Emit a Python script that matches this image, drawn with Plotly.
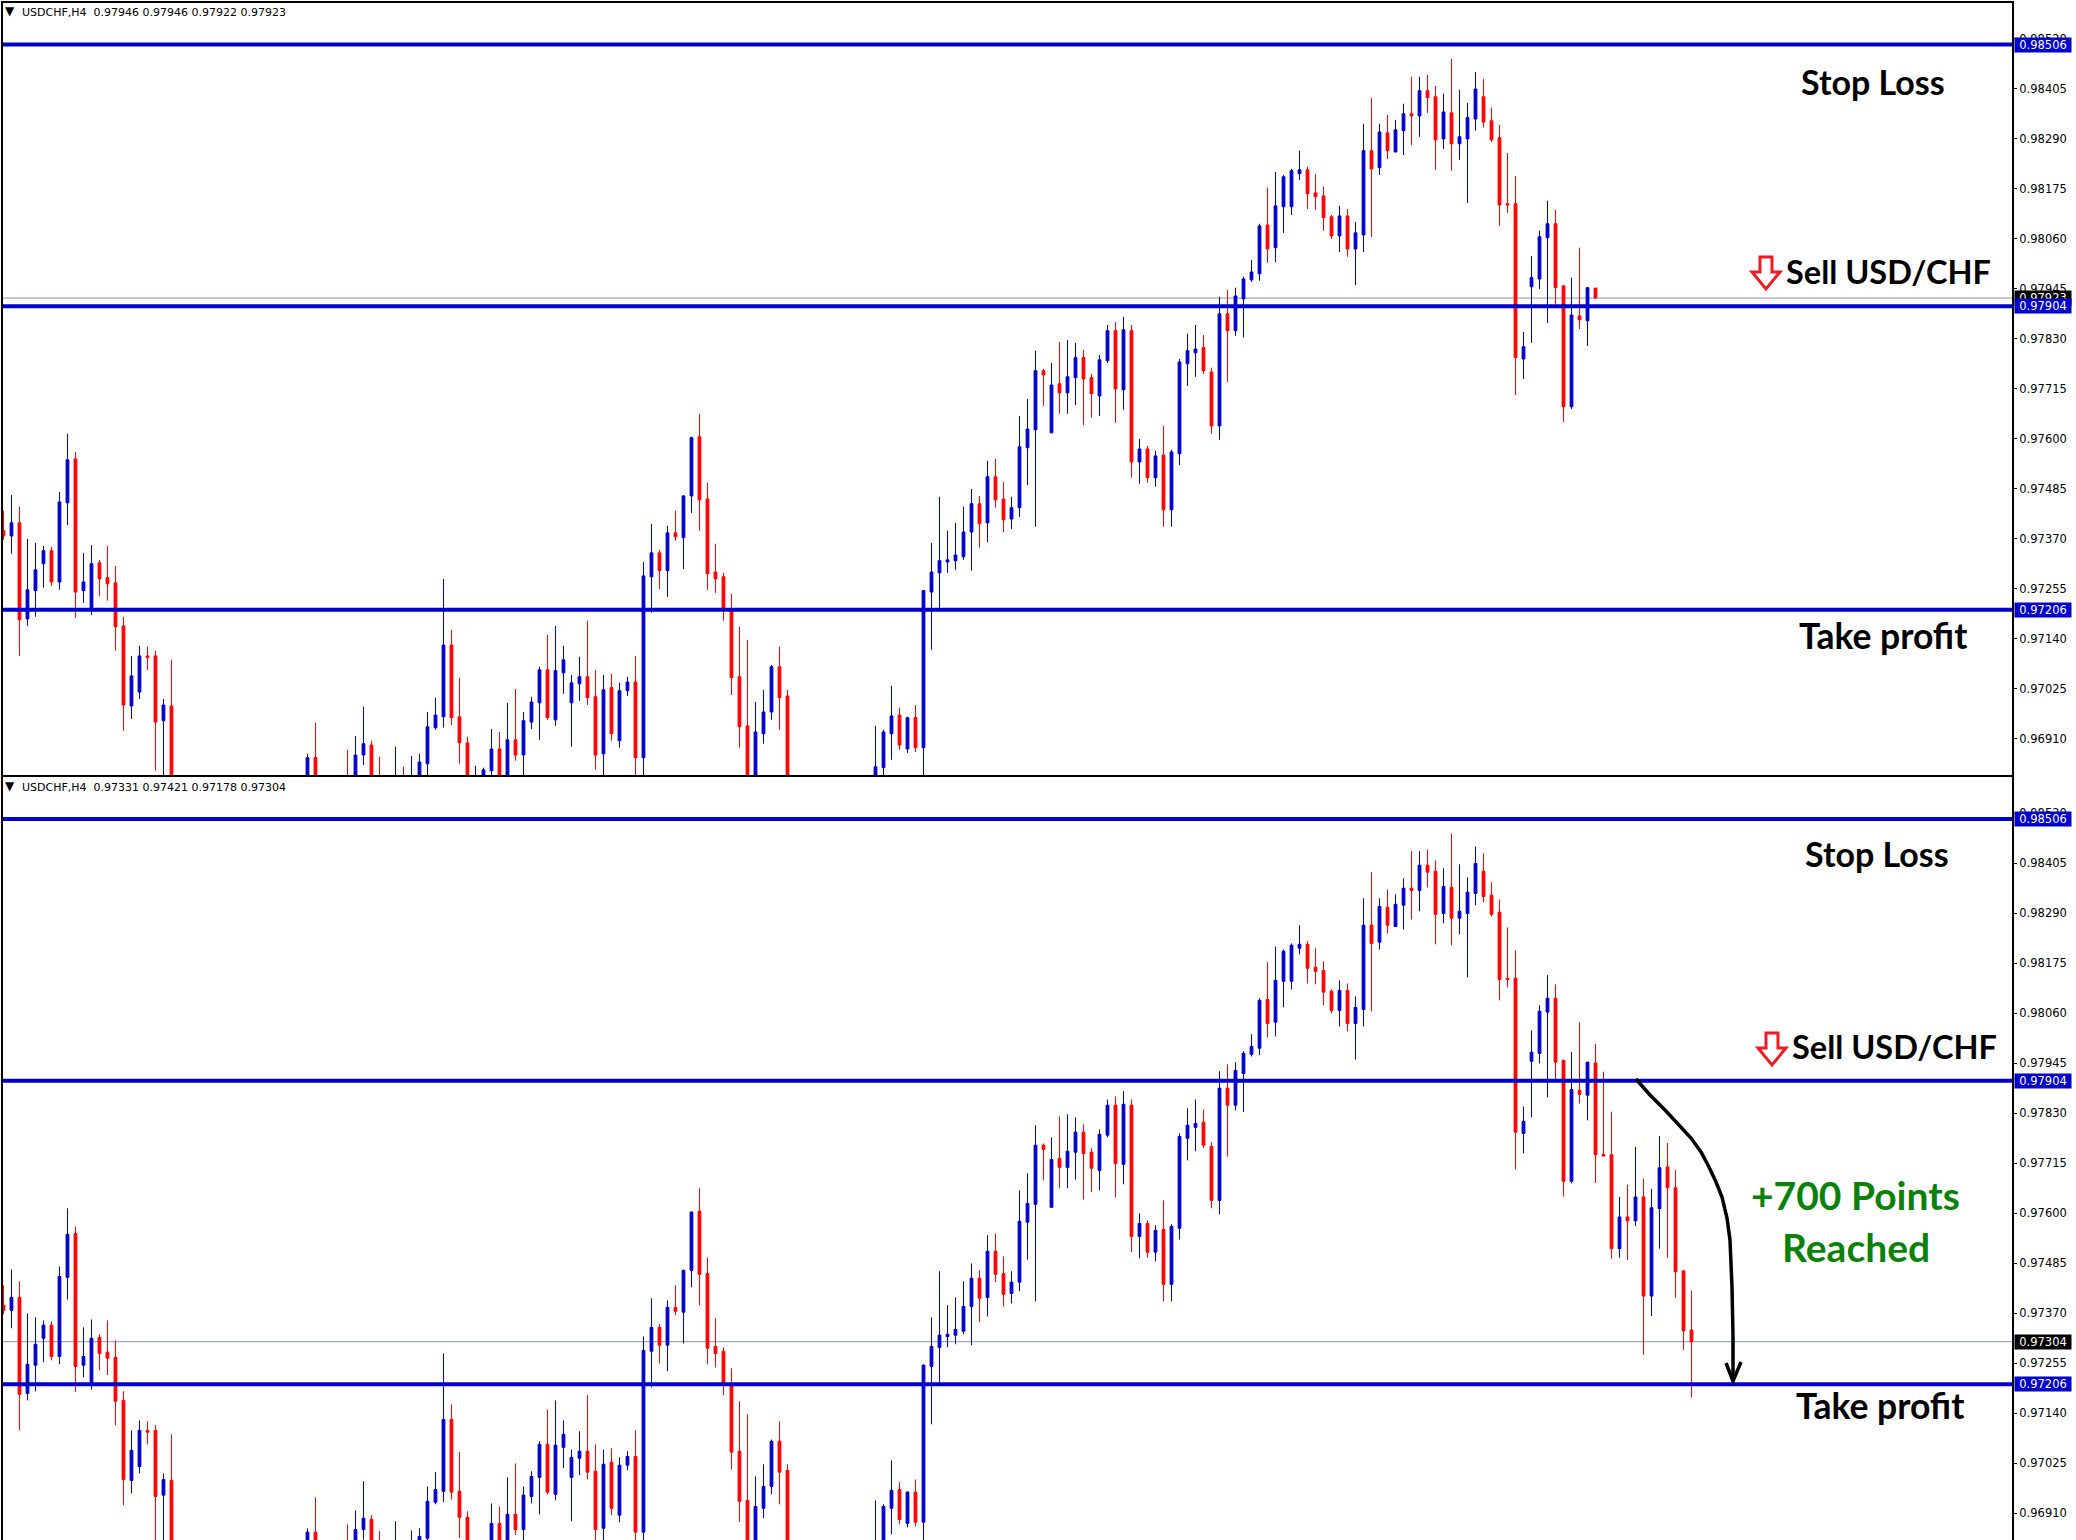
import plotly.graph_objects as go

# --- Data, prices in 1/100000 ---
FIG_W, FIG_H = 2076, 1540

bar_index = list(range(0, 22)) + [38, 39] + list(range(43, 48)) + list(range(49, 99)) + list(range(109, 212))

# B = up bar (blue), R = down bar (red)
bar_dir = (
    "RBRBBBRBBRBBRRRRBBRRBR"
    "BR"
    "RBBRR"
    "BRBBBBBRRR" "BBBRBRBBBR" "BBBBRRBRBB" "RBBRBRBBRR" "RRRRRBBBRR"
    "BBBRBRBBBB" "BBBRBRRBBB" "BRBRBBRRBB" "RBRBRBRBBB" "BRRBRBBBBR"
    "BBBBRRRRBR" "BBRBRBBRBR" "RBRBBBRRRR" "RBBBBRRBRB"
    "RRRBRBRBBRRRR"
)

bar_high = [
    97434, 97470, 97443, 97369, 97360, 97353, 97351, 97477, 97611, 97569, 97337, 97355, 97321, 97353, 97307, 97190,
    97100, 97123, 97121, 97112, 97001, 97091,
    96875, 96946,
    96884, 96916, 96983, 96905, 96868,
    96891, 96845, 96870, 96875, 96971, 97004, 97277, 97160, 97050, 96914, 96847, 96843, 96932, 96925, 96992, 97024,
    96971, 97006, 97075, 97148, 97169, 97123, 97056, 97098, 97181, 97068, 97056, 97059, 97038, 97052, 97100, 97316,
    97404, 97344, 97399, 97434, 97470, 97604, 97657, 97498, 97358, 97291, 97243, 97167, 97137, 96994, 97022, 97079,
    97121, 97022,
    96939, 96930, 97031, 96981, 96960, 96987, 97252, 97360, 97466, 97388, 97406, 97443, 97484, 97468, 97549, 97553,
    97500, 97466, 97652, 97691, 97802, 97760, 97774, 97822, 97827, 97820, 97804, 97749, 97792, 97861, 97868, 97880,
    97861, 97599, 97583, 97572, 97629, 97574, 97783, 97841, 97861, 97838, 97763, 97926, 97942, 97947, 97972, 98011,
    98094, 98177, 98213, 98206, 98220, 98262, 98225, 98209, 98179, 98114, 98135, 98128, 98098, 98324, 98384, 98324,
    98344, 98333, 98370, 98432, 98432, 98436, 98411, 98393, 98473, 98402, 98372, 98443, 98427, 98361, 98321, 98257,
    98204, 97845, 98020, 98078, 98147, 98126, 97953, 97970, 98039, 97947,
    97989, 97925, 97833, 97637, 97665, 97752, 97679, 97656, 97777, 97761, 97699, 97467, 97421,
]
bar_top = [
    97388, 97406, 97406, 97252, 97298, 97342, 97342, 97454, 97551, 97553, 97270, 97312, 97314, 97280, 97268, 97169,
    97054, 97100, 97100, 97100, 96987, 96985,
    96866, 96866,
    96820, 96872, 96898, 96895, 96820,
    96820, 96820, 96820, 96856, 96937, 96964, 97125, 97125, 96960, 96900, 96820, 96838, 96886, 96886, 96907, 96907,
    96951, 96994, 97068, 97068, 97066, 97091, 97038, 97052, 97052, 97006, 97022, 97027, 97020, 97040, 97040, 97284,
    97337, 97337, 97383, 97383, 97468, 97602, 97604, 97461, 97293, 97282, 97206, 97052, 96939, 96925, 96971, 97075,
    97075, 97008,
    96845, 96925, 96962, 96964, 96958, 96958, 97250, 97293, 97319, 97321, 97332, 97385, 97450, 97450, 97512, 97512,
    97461, 97441, 97581, 97622, 97756, 97756, 97723, 97726, 97742, 97786, 97786, 97740, 97781, 97848, 97848, 97850,
    97848, 97576, 97576, 97560, 97562, 97569, 97776, 97802, 97806, 97809, 97753, 97887, 97887, 97928, 97967, 97983,
    98089, 98091, 98135, 98202, 98216, 98218, 98218, 98165, 98158, 98110, 98112, 98112, 98073, 98262, 98262, 98305,
    98303, 98310, 98347, 98347, 98400, 98400, 98386, 98351, 98349, 98294, 98338, 98404, 98386, 98331, 98292, 98140,
    98140, 97811, 97970, 98064, 98094, 98094, 97951, 97884, 97882, 97947,
    97945, 97735, 97734, 97591, 97591, 97637, 97637, 97612, 97704, 97706, 97658, 97467, 97331,
]
bar_bottom = [
    97376, 97376, 97183, 97185, 97250, 97312, 97270, 97270, 97452, 97247, 97250, 97206, 97277, 97266, 97167, 96987,
    96985, 97017, 97096, 96948, 96951, 96790,
    96800, 96790,
    96800, 96800, 96872, 96810, 96810,
    96800, 96800, 96800, 96800, 96852, 96935, 96960, 96958, 96900, 96810, 96800, 96810, 96836, 96810, 96810, 96872,
    96872, 96948, 96992, 96958, 96953, 97061, 96992, 97036, 97004, 96872, 96875, 96921, 96905, 97020, 96866, 96866,
    97282, 97296, 97296, 97374, 97372, 97468, 97459, 97289, 97277, 97210, 97050, 96937, 96820, 96810, 96921, 96971,
    97004, 96800,
    96825, 96843, 96921, 96895, 96886, 96889, 96889, 97247, 97291, 97316, 97319, 97328, 97385, 97404, 97406, 97459,
    97413, 97415, 97441, 97579, 97620, 97746, 97613, 97705, 97705, 97740, 97737, 97703, 97698, 97779, 97714, 97712,
    97546, 97546, 97510, 97510, 97436, 97436, 97565, 97772, 97797, 97756, 97629, 97629, 97848, 97848, 97921, 97965,
    97979, 98036, 98039, 98133, 98133, 98209, 98163, 98156, 98108, 98066, 98066, 98036, 98036, 98068, 98220, 98223,
    98262, 98259, 98308, 98342, 98342, 98384, 98287, 98289, 98278, 98278, 98289, 98335, 98328, 98287, 98137, 98137,
    97786, 97783, 97949, 97967, 98062, 97947, 97673, 97673, 97873, 97871,
    97734, 97731, 97518, 97518, 97582, 97582, 97409, 97409, 97610, 97658, 97465, 97329, 97304,
]
bar_low = [
    97367, 97335, 97100, 97169, 97190, 97257, 97261, 97252, 97401, 97188, 97222, 97194, 97238, 97227, 97112, 96928,
    96955, 97001, 97068, 96836, 96800, 96750,
    96780, 96770,
    96780, 96780, 96849, 96790, 96790,
    96790, 96790, 96790, 96790, 96810, 96930, 96935, 96941, 96852, 96800, 96790, 96800, 96810, 96800, 96800, 96859,
    96810, 96932, 96907, 96953, 96939, 97013, 96891, 96997, 96987, 96838, 96810, 96905, 96889, 97008, 96790, 96790,
    97199, 97254, 97236, 97365, 97300, 97429, 97388, 97252, 97245, 97181, 97010, 96889, 96790, 96790, 96898, 96953,
    96930, 96780,
    96800, 96820, 96861, 96884, 96877, 96879, 96825, 97114, 97210, 97291, 97298, 97321, 97296, 97349, 97362, 97441,
    97385, 97392, 97420, 97493, 97397, 97675, 97613, 97657, 97657, 97677, 97631, 97648, 97652, 97774, 97636, 97666,
    97510, 97496, 97498, 97489, 97397, 97397, 97539, 97721, 97742, 97749, 97611, 97597, 97730, 97836, 97832, 97960,
    97963, 98004, 98006, 98073, 98114, 98195, 98128, 98126, 98078, 98059, 98029, 98018, 97953, 98029, 98064, 98206,
    98243, 98259, 98252, 98275, 98294, 98349, 98218, 98266, 98216, 98241, 98142, 98308, 98315, 98282, 98089, 98119,
    97700, 97737, 97820, 97944, 97866, 97905, 97638, 97668, 97852, 97813,
    97669, 97731, 97495, 97497, 97492, 97570, 97274, 97363, 97518, 97497, 97405, 97285, 97176,
]

# The upper panel stops at the bar still forming when the trade was opened
top_panel_last = 199
forming_bar = {'open': 0.97946, 'high': 0.97946, 'low': 0.97922, 'close': 0.97923}

level_prices = [0.98506, 0.97904, 0.97206]
level_labels = ['0.98506', '0.97904', '0.97206']
tick_prices = [0.98520, 0.98405, 0.98290, 0.98175, 0.98060, 0.97945, 0.97830,
               0.97715, 0.97600, 0.97485, 0.97370, 0.97255, 0.97140, 0.97025, 0.96910]
tick_labels = ['%.5f' % t for t in tick_prices]

BLUE = '#0000CD'
RED = '#FF0000'
TICK_FONT = 'DejaVu Sans'
NOTE_FONT = 'Lato'


def px(x):
    return x / FIG_W


def py(y):
    return 1 - y / FIG_H


def path_from(points, close=False):
    d = 'M ' + ' L '.join('%.5f %.5f' % (px(x), py(y)) for x, y in points)
    return d + (' Z' if close else '')


def candles(last_index, xaxis, yaxis, extra=None):
    rows = [i for i, b in enumerate(bar_index) if b <= last_index]
    xs = [bar_index[i] for i in rows]
    opens = [(bar_bottom[i] if bar_dir[i] == 'B' else bar_top[i]) / 100000 for i in rows]
    closes = [(bar_top[i] if bar_dir[i] == 'B' else bar_bottom[i]) / 100000 for i in rows]
    highs = [bar_high[i] / 100000 for i in rows]
    lows = [bar_low[i] / 100000 for i in rows]
    if extra:
        xs.append(top_panel_last)
        opens.append(extra['open'])
        closes.append(extra['close'])
        highs.append(extra['high'])
        lows.append(extra['low'])
    return go.Candlestick(
        x=xs, open=opens, high=highs, low=lows, close=closes,
        xaxis=xaxis, yaxis=yaxis, whiskerwidth=0, showlegend=False,
        increasing=dict(line=dict(color=BLUE, width=1), fillcolor=BLUE),
        decreasing=dict(line=dict(color=RED, width=1), fillcolor=RED),
    )


fig = go.Figure()
fig.add_trace(candles(top_panel_last - 1, 'x', 'y', extra=forming_bar))
fig.add_trace(candles(max(bar_index), 'x2', 'y2'))

# --- Horizontal levels and bid lines ---
shapes = []
for yref, xref in (('y', 'x domain'), ('y2', 'x2 domain')):
    for level in level_prices:
        shapes.append(dict(type='line', xref=xref, yref=yref, x0=0, x1=1, y0=level, y1=level,
                           line=dict(color=BLUE, width=4)))
for yref, xref, bid in (('y', 'x domain', 0.97923), ('y2', 'x2 domain', 0.97304)):
    shapes.append(dict(type='line', xref=xref, yref=yref, x0=0, x1=1, y0=bid, y1=bid, layer='below',
                       line=dict(color='#8A97A5', width=1)))

# --- Red sell arrows ---
for ox, oy in ((1752, 257), (1758, 1033)):
    outline = [(ox + 8, oy), (ox + 20, oy), (ox + 20, oy + 15), (ox + 28, oy + 15),
               (ox + 14, oy + 32), (ox, oy + 15), (ox + 8, oy + 15)]
    shapes.append(dict(type='path', xref='paper', yref='paper', path=path_from(outline, close=True),
                       line=dict(color='#ED1C24', width=3)))

# --- Hand drawn arrow down to take profit ---
curve = [(1636, 1079), (1650, 1095), (1665, 1110), (1691, 1138), (1701, 1152), (1709, 1167), (1716, 1182),
         (1722, 1197), (1727, 1218), (1730, 1240), (1732, 1287), (1733, 1335), (1733, 1381)]
shapes.append(dict(type='path', xref='paper', yref='paper', path=path_from(curve),
                   line=dict(color='black', width=3.5)))
shapes.append(dict(type='path', xref='paper', yref='paper',
                   path=path_from([(1726, 1363), (1733, 1381), (1741, 1362)]),
                   line=dict(color='black', width=3.5)))

# --- Texts ---
annotations = []


def note(text, x, y, size=34, color='black'):
    annotations.append(dict(text='<b>%s</b>' % text, x=px(x), y=py(y), xref='paper', yref='paper',
                            showarrow=False, xanchor='center', yanchor='middle',
                            font=dict(family=NOTE_FONT, size=size, color=color)))


note('Stop Loss', 1873, 82)
note('Sell USD/CHF', 1888, 271, size=32.5)
note('Take profit', 1883, 635, size=35.5)
note('Stop Loss', 1877, 853)
note('Sell USD/CHF', 1894, 1046, size=32.5)
note('Take profit', 1880, 1405, size=35.5)
note('+700 Points', 1855, 1195, size=39, color='#0A820A')
note('Reached', 1856, 1247, size=39, color='#0A820A')


def price_box(text, yref, price, color):
    annotations.append(dict(text=text, x=px(2014), y=price, xref='paper', yref=yref, showarrow=False,
                            xanchor='left', yanchor='middle', width=56, height=14, borderpad=0, bgcolor=color,
                            font=dict(family=TICK_FONT, size=11.5, color='white')))


price_box('0.97923', 'y', 0.97923, 'black')
price_box('0.97304', 'y2', 0.97304, 'black')
for yref in ('y', 'y2'):
    for level, label in zip(level_prices, level_labels):
        price_box(label, yref, level, BLUE)

for header, y in (('USDCHF,H4\u00a0\u00a00.97946 0.97946 0.97922 0.97923', 12),
                  ('USDCHF,H4\u00a0\u00a00.97331 0.97421 0.97178 0.97304', 787)):
    annotations.append(dict(text=header, x=px(20), y=py(y), xref='paper', yref='paper', showarrow=False,
                            xanchor='left', yanchor='middle',
                            font=dict(family=TICK_FONT, size=11, color='black')))
    annotations.append(dict(text='\u25bc', x=px(10), y=py(y - 1), xref='paper', yref='paper', showarrow=False,
                            xanchor='center', yanchor='middle',
                            font=dict(family=TICK_FONT, size=12, color='black')))

# --- Layout ---
x_range = [-0.06, 251.06]
x_domain = [px(3), px(2012)]
y_axis_common = dict(side='right', tickvals=tick_prices, ticktext=tick_labels, ticks='outside', ticklen=3,
                     tickcolor='black', showgrid=False, zeroline=False, showline=True, linecolor='black',
                     linewidth=2, mirror=True, tickfont=dict(family=TICK_FONT, size=11.5, color='black'))
x_axis_common = dict(range=x_range, domain=x_domain, showgrid=False, zeroline=False, showticklabels=False,
                     ticks='', rangeslider=dict(visible=False), showline=True, linecolor='black', linewidth=2,
                     mirror=True)

fig.update_layout(
    width=FIG_W,
    height=FIG_H,
    margin=dict(l=0, r=0, t=0, b=0),
    paper_bgcolor='white',
    plot_bgcolor='white',
    showlegend=False,
    boxgap=0.5,
    xaxis=dict(anchor='y', **x_axis_common),
    xaxis2=dict(anchor='y2', **x_axis_common),
    yaxis=dict(anchor='x', domain=[py(775), py(3)], range=[0.968261, 0.986017], **y_axis_common),
    yaxis2=dict(anchor='x2', domain=[0, py(777)], range=[0.968479, 0.986028], **y_axis_common),
    shapes=shapes,
    annotations=annotations,
)

fig.write_html("out.html", post_script="document.body.style.margin='0';", config={'displayModeBar': False})
